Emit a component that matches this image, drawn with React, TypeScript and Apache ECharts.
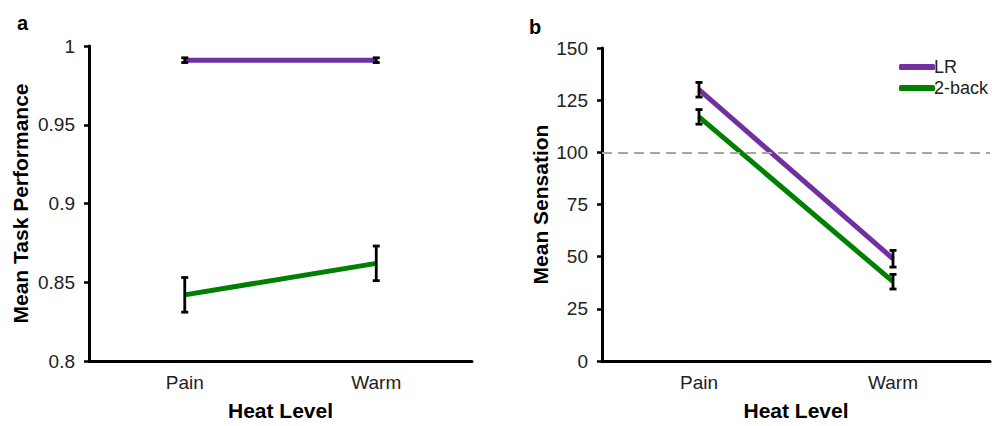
import React, { useEffect, useRef } from "react";
import * as echarts from "echarts";

const categories = ["Pain", "Warm"];
const seriesNames = ["LR", "2-back"];
const perfLR = [0.991, 0.991];
const perfLRErr = [0.0015, 0.0015];
const perf2Back = [0.842, 0.862];
const perf2BackErr = [0.011, 0.011];
const sensLR = [130, 49];
const sensLRErr = [3.5, 4];
const sens2Back = [117, 38];
const sens2BackErr = [3.5, 3.5];
const perfTicks = { min: 0.8, max: 1, interval: 0.05 };
const sensTicks = { min: 0, max: 150, interval: 25 };
const referenceLine = 100;

const PURPLE = "#7030a0";
const GREEN = "#008000";
const FONT = "Liberation Sans, Arial, sans-serif";

function errData(means: number[], errs: number[]) {
  return means.map((m, i) => [i, m - errs[i], m + errs[i]]);
}

function errSeries(xi: number, means: number[], errs: number[]) {
  return {
    type: "custom",
    xAxisIndex: xi,
    yAxisIndex: xi,
    z: 5,
    silent: true,
    data: errData(means, errs),
    renderItem: (params: any, api: any) => {
      const x = api.value(0);
      const top = api.coord([x, api.value(2)]);
      const bot = api.coord([x, api.value(1)]);
      const cw = 3.5;
      const style = { stroke: "#000", lineWidth: 2.8 };
      return {
        type: "group",
        children: [
          { type: "line", shape: { x1: top[0], y1: top[1], x2: bot[0], y2: bot[1] }, style },
          { type: "line", shape: { x1: top[0] - cw, y1: top[1], x2: top[0] + cw, y2: top[1] }, style },
          { type: "line", shape: { x1: bot[0] - cw, y1: bot[1], x2: bot[0] + cw, y2: bot[1] }, style },
        ],
      };
    },
  };
}

export default function App() {
  const ref = useRef<HTMLDivElement>(null);
  useEffect(() => {
    if (!ref.current) return;
    const chart = echarts.init(ref.current, null, { renderer: "svg" });
    const axisLine = { show: true, lineStyle: { color: "#000", width: 3 } };
    const xAxisBase = {
      type: "category",
      data: categories,
      boundaryGap: true,
      axisLine,
      axisTick: { show: false },
      axisLabel: { color: "#222", fontSize: 19, fontFamily: FONT, margin: 12 },
      name: "Heat Level",
      nameLocation: "middle",
      nameGap: 39,
      nameTextStyle: { color: "#000", fontSize: 21, fontWeight: "bold", fontFamily: FONT },
    };
    const yAxisBase = {
      type: "value",
      axisLine,
      axisTick: { show: true, length: 5, lineStyle: { color: "#000", width: 2.5 } },
      splitLine: { show: false },
      axisLabel: { color: "#222", fontSize: 19, fontFamily: FONT, margin: 14 },
      nameLocation: "middle",
      nameTextStyle: { color: "#000", fontSize: 21, fontWeight: "bold", fontFamily: FONT },
    };
    chart.setOption({
      animation: false,
      title: [
        { text: "a", left: 12, top: 8, textStyle: { fontSize: 20, fontWeight: "bold", color: "#000", fontFamily: FONT } },
        { text: "b", left: 524, top: 12, textStyle: { fontSize: 20, fontWeight: "bold", color: "#000", fontFamily: FONT } },
      ],
      legend: {
        data: seriesNames,
        orient: "vertical",
        left: 899,
        top: 58,
        padding: 0,
        icon: "roundRect",
        itemWidth: 36,
        itemHeight: 6,
        itemGap: 3,
        textStyle: { fontSize: 18, color: "#222", fontFamily: FONT, padding: [0, 0, 0, -6] },
      },
      grid: [
        { left: 89, right: 520, top: 46, bottom: 61 },
        { left: 602, right: 2, top: 48, bottom: 59 },
      ],
      xAxis: [
        { ...xAxisBase, gridIndex: 0 },
        { ...xAxisBase, gridIndex: 1 },
      ],
      yAxis: [
        { ...yAxisBase, gridIndex: 0, ...perfTicks, name: "Mean Task Performance", nameGap: 58 },
        { ...yAxisBase, gridIndex: 1, ...sensTicks, name: "Mean Sensation", nameGap: 51 },
      ],
      series: [
        {
          name: "LR", type: "line", xAxisIndex: 0, yAxisIndex: 0, data: perfLR,
          symbol: "none", lineStyle: { color: PURPLE, width: 5 }, itemStyle: { color: PURPLE }, z: 3,
        },
        {
          name: "2-back", type: "line", xAxisIndex: 0, yAxisIndex: 0, data: perf2Back,
          symbol: "none", lineStyle: { color: GREEN, width: 5 }, itemStyle: { color: GREEN }, z: 3,
        },
        {
          name: "LR", type: "line", xAxisIndex: 1, yAxisIndex: 1, data: sensLR,
          symbol: "none", lineStyle: { color: PURPLE, width: 5 }, itemStyle: { color: PURPLE }, z: 3,
          markLine: {
            silent: true,
            symbol: "none",
            label: { show: false },
            lineStyle: { color: "#a6a6a6", type: [10, 6], width: 2 },
            data: [{ yAxis: referenceLine }],
          },
        },
        {
          name: "2-back", type: "line", xAxisIndex: 1, yAxisIndex: 1, data: sens2Back,
          symbol: "none", lineStyle: { color: GREEN, width: 5 }, itemStyle: { color: GREEN }, z: 3,
        },
        errSeries(0, perfLR, perfLRErr),
        errSeries(0, perf2Back, perf2BackErr),
        errSeries(1, sensLR, sensLRErr),
        errSeries(1, sens2Back, sens2BackErr),
      ],
    });
    return () => chart.dispose();
  }, []);
  return (
    <div
      ref={ref}
      style={{ position: "fixed", left: 0, top: 0, width: 992, height: 426, background: "#fff" }}
    />
  );
}
